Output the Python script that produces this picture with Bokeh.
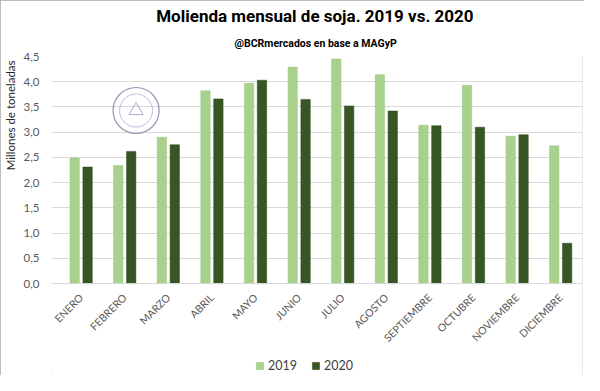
from bokeh.plotting import figure
from bokeh.models import Range1d, Title, CustomJSTickFormatter, FixedTicker, Legend, LegendItem, ColumnDataSource
from bokeh.transform import dodge
from bokeh.embed import file_html
from bokeh.resources import INLINE
import math

months = ["ENERO", "FEBRERO", "MARZO", "ABRIL", "MAYO", "JUNIO", "JULIO",
          "AGOSTO", "SEPTIEMBRE", "OCTUBRE", "NOVIEMBRE", "DICIEMBRE"]
v2019 = [2.49, 2.34, 2.90, 3.82, 3.97, 4.29, 4.45, 4.14, 3.14, 3.93, 2.92, 2.73]
v2020 = [2.31, 2.62, 2.75, 3.66, 4.03, 3.65, 3.52, 3.42, 3.13, 3.10, 2.95, 0.80]
y_ticks = [0.0, 0.5, 1.0, 1.5, 2.0, 2.5, 3.0, 3.5, 4.0, 4.5]

c2019 = "#a9d18e"
c2020 = "#375623"

centers = [i + 0.5 for i in range(len(months))]
src = ColumnDataSource(dict(xc=centers, month=months, v2019=v2019, v2020=v2020))
seal = ColumnDataSource(dict(x=[centers[months.index("FEBRERO")] + 0.26], y=[3.43]))

# y range extends below zero so that the category labels and legend sit inside the frame
p = figure(width=584, height=375, x_range=Range1d(-0.18, 12.0),
           y_range=Range1d(-1.82, 4.5), output_backend="svg", toolbar_location=None,
           min_border_left=42, min_border_right=2, min_border_top=52, min_border_bottom=0)

r1 = p.vbar(x=dodge("xc", -0.148), top="v2019", width=0.215,
            source=src, fill_color=c2019, line_color="#9cc77f", line_width=0.5)
r2 = p.vbar(x=dodge("xc", 0.148), top="v2020", width=0.215,
            source=src, fill_color=c2020, line_color="#2c461c", line_width=0.5)

# decorative seal (logo watermark)
p.scatter(x="x", y="y", source=seal, size=46, marker="circle",
          fill_color=None, line_color="#8f98b5", line_width=1.2)
p.scatter(x="x", y="y", source=seal, size=33, marker="circle",
          fill_color=None, line_color="#a9b0c8", line_width=0.8)
p.scatter(x="x", y="y", source=seal, size=14, marker="triangle",
          fill_color=None, line_color="#8f98b5", line_width=0.8)

p.background_fill_color = "white"
p.border_fill_color = "white"
p.outline_line_color = None

p.xgrid.grid_line_color = None
p.ygrid.grid_line_color = "#d9d9d9"
p.ygrid.grid_line_width = 1
p.yaxis.ticker = FixedTicker(ticks=y_ticks)
p.yaxis.formatter = CustomJSTickFormatter(code="return tick.toFixed(1).replace('.', ',');")
p.yaxis.axis_line_color = None
p.yaxis.major_tick_line_color = None
p.yaxis.minor_tick_line_color = None
p.yaxis.major_label_text_font = "Lato"
p.yaxis.major_label_text_font_size = "11.5px"
p.yaxis.major_label_text_color = "#595959"
p.yaxis.major_label_standoff = 6
p.yaxis.axis_label = "\u2002" * 35 + "Millones de toneladas"
p.yaxis.axis_label_text_font = "Lato"
p.yaxis.axis_label_text_font_style = "normal"
p.yaxis.axis_label_text_font_size = "11.5px"
p.yaxis.axis_label_text_color = "#262626"
p.yaxis.axis_label_standoff = 4

p.xaxis.fixed_location = 0
p.xaxis.ticker = FixedTicker(ticks=centers)
p.xaxis.formatter = CustomJSTickFormatter(args=dict(labels=months),
                                          code="const i = Math.round(tick - 0.5); return labels[i] ?? '';")
p.xaxis.axis_line_color = "#d9d9d9"
p.xaxis.major_tick_line_color = None
p.xaxis.minor_tick_line_color = None
p.xaxis.major_label_orientation = math.pi / 4
p.xaxis.major_label_text_font = "Lato"
p.xaxis.major_label_text_font_size = "10.5px"
p.xaxis.major_label_text_color = "#595959"
p.xaxis.major_label_standoff = 6

legend = Legend(items=[LegendItem(label="2019", renderers=[r1]),
                       LegendItem(label="2020", renderers=[r2])],
                orientation="horizontal", location=(204, 2),
                label_text_font="Lato", label_text_font_size="12.5px",
                label_text_color="#404040", glyph_width=9, glyph_height=9,
                spacing=14, label_standoff=4, border_line_color=None,
                background_fill_alpha=0, padding=2, margin=0)
p.add_layout(legend)

sub = Title(text="@BCRmercados  en base a MAGyP", align="center",
            text_font="Roboto", text_font_style="bold",
            text_font_size="10.5px", text_color="#000000", standoff=13)
p.add_layout(sub, "above")
main = Title(text="Molienda mensual de soja. 2019 vs.  2020", align="center",
             text_font="Roboto", text_font_style="bold",
             text_font_size="17px", text_color="#000000", standoff=6)
p.add_layout(main, "above")

p.styles = {"outline": "2px solid #a6a6a6", "outline-offset": "-2px"}

open("out.html", "w").write(file_html(p, INLINE))
